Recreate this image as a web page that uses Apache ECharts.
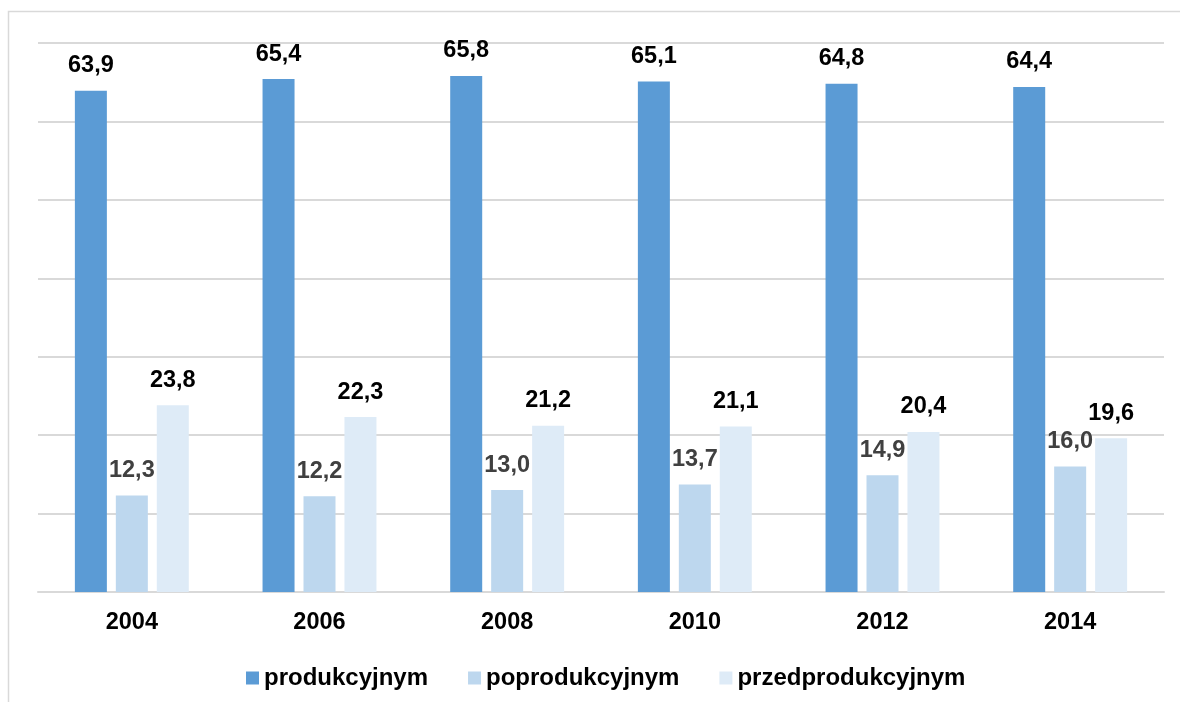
<!DOCTYPE html>
<html>
<head>
<meta charset="utf-8">
<script src="https://cdn.jsdelivr.net/npm/echarts@6/dist/echarts.min.js"></script>
<style>
html,body{margin:0;padding:0;background:#fff;}
#chart{width:1180px;height:702px;}
</style>
</head>
<body>
<div id="chart"></div>
<script>
const categories = ['2004', '2006', '2008', '2010', '2012', '2014'];
const seriesNames = ['produkcyjnym', 'poprodukcyjnym', 'przedprodukcyjnym'];
const produkcyjnym = [63.9, 65.4, 65.8, 65.1, 64.8, 64.4];
const poprodukcyjnym = [12.3, 12.2, 13.0, 13.7, 14.9, 16.0];
const przedprodukcyjnym = [23.8, 22.3, 21.2, 21.1, 20.4, 19.6];

const colors = ['#5b9bd5', '#bdd7ee', '#deebf7'];
const labelColors = ['#000000', '#404040', '#000000'];
const fontFamily = 'Liberation Sans, Arial, sans-serif';
const fs = 23.5;

const chart = echarts.init(document.getElementById('chart'));
const dataSets = [produkcyjnym, poprodukcyjnym, przedprodukcyjnym];

const option = {
  animation: false,
  color: colors,
  graphic: [{
    type: 'rect',
    shape: { x: 8.5, y: 11.5, width: 1300, height: 800 },
    style: { fill: 'none', stroke: '#d9d9d9', lineWidth: 1.5 },
    silent: true
  }],
  grid: { left: 38, right: 16, top: 43, bottom: 110 },
  legend: {
    top: 661,
    left: 241,
    itemWidth: 13,
    itemHeight: 13,
    itemGap: 40,
    icon: 'rect',
    textStyle: { fontFamily: fontFamily, fontSize: 24, fontWeight: 'bold', color: '#000' },
    data: seriesNames
  },
  xAxis: {
    type: 'category',
    data: categories,
    axisLine: { lineStyle: { color: '#d9d9d9', width: 2 } },
    axisTick: { show: false },
    axisLabel: { fontFamily: fontFamily, fontSize: fs, fontWeight: 'bold', color: '#000', margin: 19 }
  },
  yAxis: {
    type: 'value',
    min: 0,
    max: 70,
    interval: 10,
    axisLabel: { show: false },
    axisLine: { show: false },
    axisTick: { show: false },
    splitLine: { lineStyle: { color: '#d9d9d9', width: 2 } }
  },
  series: dataSets.map((d, i) => ({
    name: seriesNames[i],
    type: 'bar',
    data: d,
    barWidth: 32,
    barGap: '28%',
    itemStyle: { color: colors[i] },
    label: {
      show: true,
      position: 'top',
      distance: 13,
      fontFamily: fontFamily,
      fontSize: fs,
      fontWeight: 'bold',
      color: labelColors[i],
      formatter: p => p.value.toFixed(1).replace('.', ',')
    }
  }))
};
chart.setOption(option);
</script>
</body>
</html>
